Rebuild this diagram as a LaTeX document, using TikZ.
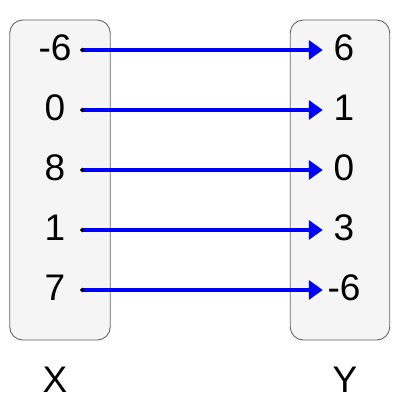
\documentclass[tikz,border=0pt]{standalone}
\usepackage{fontspec}
\setmainfont{Liberation Sans}
\usetikzlibrary{arrows.meta,positioning}
\definecolor{boxfill}{HTML}{F5F5F5}
\definecolor{boxline}{HTML}{666666}
\definecolor{maparrow}{HTML}{0000FF}

\begin{document}
\begin{tikzpicture}[
      x=1pt, y=-1pt,
      set/.style={draw=boxline, fill=boxfill, line width=0.9pt, rounded corners=13pt,
        minimum height=320pt, inner sep=0pt},
      elx/.style={font=\fontsize{37}{40}\selectfont, text height=26pt, text depth=6pt,
        minimum width=50pt, inner sep=0pt},
      ely/.style={font=\fontsize{37}{40}\selectfont, text height=26pt, text depth=6pt,
        minimum width=42pt, inner sep=0pt},
      lbl/.style={font=\fontsize{37}{40}\selectfont, inner sep=0pt},
      map/.style={{Circle[length=4pt,color=black]}-{Triangle[length=14pt,width=19pt]},
        line width=3.4pt, maparrow}
    ]
      \useasboundingbox (0,0) rectangle (400,400);

      % the two sets
      \node[set, minimum width=100.5pt] (setx) at (60,180) {};
      \node[set, minimum width=99.5pt] (sety) at (340,180) {};

      % elements of X
      \node[elx] (x1) at (55,50) {-6};
      \node[elx] (x2) at (55,110) {0};
      \node[elx] (x3) at (55,170) {8};
      \node[elx] (x4) at (55,230) {1};
      \node[elx] (x5) at (55,290) {7};

      % elements of Y
      \node[ely] (y1) at (344,50) {6};
      \node[ely] (y2) at (344,110) {1};
      \node[ely] (y3) at (344,170) {0};
      \node[ely] (y4) at (344,230) {3};
      \node[ely] (y5) at (344,290) {-6};

      % set names
      \node[lbl] (labx) at (55,380) {X};
      \node[lbl] (laby) at (345,380) {Y};

      % mapping
      \draw[map] (x1.east) -- (y1.west);
      \draw[map] (x2.east) -- (y2.west);
      \draw[map] (x3.east) -- (y3.west);
      \draw[map] (x4.east) -- (y4.west);
      \draw[map] (x5.east) -- (y5.west);
    \end{tikzpicture}
\end{document}
